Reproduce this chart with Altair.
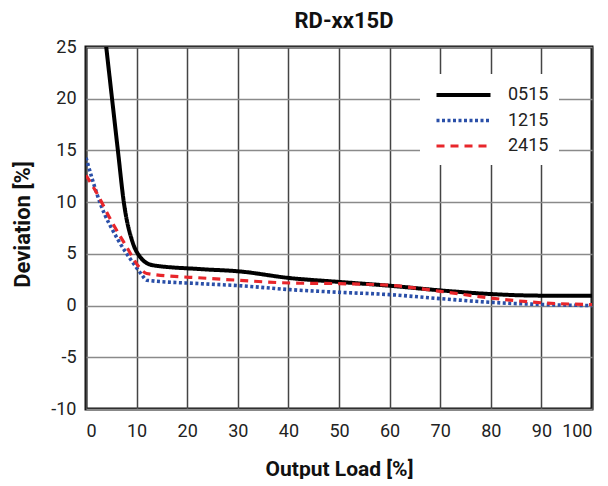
import altair as alt
import pandas as pd

series_names = ["0515", "1215", "2415"]

x_0515 = [3.0, 4.0, 5.1, 6.3, 7.5, 9.3, 10.7, 13.2, 22.5, 30.4, 40.3, 50.2, 60.0, 70.0, 79.8, 90.3, 100.0]
y_0515 = [29.5, 25.0, 20.2, 15.0, 9.9, 6.0, 4.7, 3.9, 3.53, 3.3, 2.66, 2.28, 1.92, 1.47, 1.12, 0.96, 0.96]

x_1215 = [0.0, 2.8, 6.4, 9.5, 11.0, 12.0, 22.5, 30.4, 40.3, 50.2, 60.0, 70.0, 79.8, 90.3, 100.0]
y_1215 = [14.3, 9.9, 6.3, 4.0, 3.0, 2.45, 2.12, 1.92, 1.54, 1.28, 1.06, 0.67, 0.32, 0.1, 0.0]

x_2415 = [0.0, 2.1, 5.1, 8.0, 10.7, 12.0, 23.8, 30.4, 40.3, 50.2, 60.0, 70.0, 79.8, 90.3, 100.0]
y_2415 = [12.6, 10.9, 8.1, 5.7, 3.6, 3.1, 2.64, 2.44, 2.18, 2.12, 1.96, 1.38, 0.74, 0.26, 0.1]

rows = []
for name, xs, ys in [("0515", x_0515, y_0515), ("1215", x_1215, y_1215), ("2415", x_2415, y_2415)]:
    for i, (a, b) in enumerate(zip(xs, ys)):
        rows.append({"series": name, "load": a, "dev": b, "order": i})
df = pd.DataFrame(rows)

FONT = "Roboto"

chart = alt.Chart(df).mark_line(interpolate="monotone", clip=True).encode(
    x=alt.X("load:Q", scale=alt.Scale(domain=[0, 100], nice=False),
            axis=alt.Axis(values=list(range(0, 101, 10)), title="Output Load [%]",
                          gridColor="#444444", gridWidth=1.5, labelPadding=13,
                          titlePadding=18, titleFontSize=21)),
    y=alt.Y("dev:Q", scale=alt.Scale(domain=[-10, 25], nice=False),
            axis=alt.Axis(values=list(range(-10, 26, 5)), title="Deviation [%]",
                          gridColor="#8a8a8a", gridWidth=1.5, labelPadding=10,
                          titlePadding=16, titleFontSize=22, titleY=177,
                          labelExpr="'' + datum.value")),
    color=alt.Color("series:N", scale=alt.Scale(domain=series_names, range=["#000000", "#2a4fa8", "#e8262b"]),
                    legend=alt.Legend(title=None, orient="none", legendX=334, legendY=27,
                                      symbolType="M-0.5,0H5.5", symbolSize=324, symbolStrokeWidth=3.5,
                                      labelFontSize=18, labelOffset=56, rowPadding=5.5,
                                      fillColor="white", padding=10)),
    strokeDash=alt.StrokeDash("series:N", scale=alt.Scale(domain=series_names, range=[[1, 0], [3, 2.5], [8, 6]]),
                              legend=None),
    strokeWidth=alt.StrokeWidth("series:N", scale=alt.Scale(domain=series_names, range=[4, 3.2, 3.5]),
                                legend=None),
    order="order:Q",
).properties(
    width=506, height=362,
    title=alt.TitleParams("RD-xx15D", fontSize=22, fontWeight="bold", font=FONT, offset=5, dx=5,
                          anchor="middle", color="#111111"),
    autosize=alt.AutoSizeParams(type="none"),
    padding={"left": 78, "top": 39, "right": 8, "bottom": 70},
).configure_view(
    stroke="#111111", strokeWidth=3
).configure_axis(
    domain=False, ticks=False, labelFont=FONT, titleFont=FONT, labelFontSize=18,
    labelColor="#222222", titleFontWeight="bold", titleColor="#111111"
).configure_legend(
    labelFont=FONT, labelColor="#222222"
)

chart.save("out.html", embed_options={"renderer": "svg", "actions": False})
